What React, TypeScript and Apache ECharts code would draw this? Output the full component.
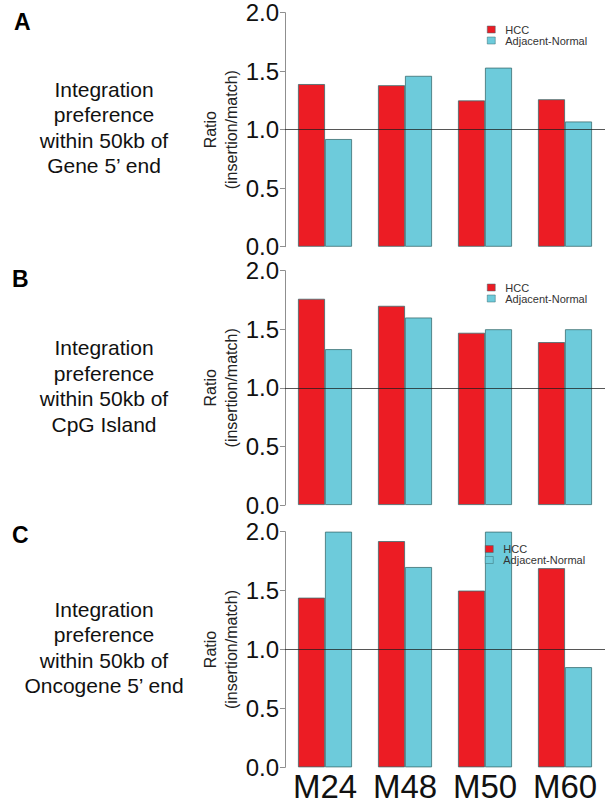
import React, { useEffect, useRef } from "react";
import * as echarts from "echarts";

const categories = ["M24", "M48", "M50", "M60"];
const seriesNames = ["HCC", "Adjacent-Normal"];
const yTicks = [0, 0.5, 1.0, 1.5, 2.0];
const referenceLine = 1.0;

const geneHCC = [1.39, 1.38, 1.25, 1.26];
const geneAdjacent = [0.92, 1.46, 1.53, 1.07];
const cpgHCC = [1.76, 1.7, 1.47, 1.39];
const cpgAdjacent = [1.33, 1.6, 1.5, 1.5];
const oncoHCC = [1.44, 1.92, 1.5, 1.69];
const oncoAdjacent = [2.0, 1.7, 2.0, 0.85];

const panelLetters = ["A", "B", "C"];
const panelTitles = [
  "Integration\npreference\nwithin 50kb of\nGene 5\u2019 end",
  "Integration\npreference\nwithin 50kb of\nCpG Island",
  "Integration\npreference\nwithin 50kb of\nOncogene 5\u2019 end",
];
const yAxisTitle = "Ratio\n(insertion/match)";

const FONT = "'Liberation Sans', Arial, Helvetica, sans-serif";
const RED = "#EC1C24";
const CYAN = "#6DCBDB";
const BORDER = "#3b6d70";

const panelData = [
  [geneHCC, geneAdjacent],
  [cpgHCC, cpgAdjacent],
  [oncoHCC, oncoAdjacent],
];

const grids = [
  { top: 12.7, height: 234 },
  { top: 270.7, height: 234.3 },
  { top: 531.7, height: 235.6 },
];
const GRID_LEFT = 285;
const GRID_WIDTH = 320;
const legendTops = [24, 282, 543.5];
const legendLefts = [487, 487, 485];
const letterTops = [10, 267, 523];
const letterLefts = [14, 12, 12];

export default function App() {
  const ref = useRef<HTMLDivElement>(null);

  useEffect(() => {
    if (!ref.current) return;
    const chart = echarts.init(ref.current, null, { renderer: "svg" });

    const gridOpts = grids.map((g) => ({
      left: GRID_LEFT,
      top: g.top,
      width: GRID_WIDTH,
      height: g.height,
      containLabel: false,
    }));

    const xAxes = grids.map((_, i) => ({
      type: "category",
      gridIndex: i,
      data: categories,
      axisLine: { show: false },
      axisTick: { show: false },
      splitLine: { show: false },
      axisLabel: {
        show: i === 2,
        interval: 0,
        fontSize: 33,
        lineHeight: 26,
        color: "#111",
        fontFamily: FONT,
        margin: 6,
      },
    }));

    const yAxes = grids.map((_, i) => ({
      type: "value",
      gridIndex: i,
      min: yTicks[0],
      max: yTicks[yTicks.length - 1],
      interval: yTicks[1] - yTicks[0],
      axisLine: { show: true, lineStyle: { color: "#8f8f8f", width: 1 } },
      axisTick: { show: true, length: 5, lineStyle: { color: "#8f8f8f", width: 1 } },
      splitLine: { show: false },
      axisLabel: {
        fontSize: 24,
        lineHeight: 20,
        color: "#111",
        fontFamily: FONT,
        margin: 6,
        formatter: (v: number) => v.toFixed(1),
      },
    }));

    const series: any[] = [];
    panelData.forEach((pair, i) => {
      pair.forEach((vals, j) => {
        series.push({
          type: "bar",
          name: seriesNames[j],
          xAxisIndex: i,
          yAxisIndex: i,
          data: vals,
          barWidth: 27,
          barGap: "0%",
          itemStyle: {
            color: j === 0 ? RED : CYAN,
            borderColor: BORDER,
            borderWidth: 0.8,
          },
          markLine:
            j === 1
              ? {
                  silent: true,
                  symbol: "none",
                  label: { show: false },
                  lineStyle: { color: "rgba(30,30,30,0.75)", width: 1, type: "solid" },
                  data: [{ yAxis: referenceLine }],
                  z: 10,
                }
              : undefined,
        });
      });
    });

    const legends = grids.map((_, i) => ({
      orient: "vertical",
      left: legendLefts[i],
      top: legendTops[i],
      padding: 0,
      itemWidth: 8,
      itemHeight: 7,
      itemGap: 0,
      icon: "rect",
      selectedMode: false,
      data: seriesNames,
      itemStyle: { borderWidth: 0.5, borderColor: BORDER },
      textStyle: { fontSize: 11, color: "#333", fontFamily: FONT, padding: [0, 0, 0, 5] },
    }));

    const graphics: any[] = [];
    grids.forEach((g, i) => {
      const cy = g.top + g.height / 2;
      graphics.push({
        type: "text",
        left: letterLefts[i],
        top: letterTops[i],
        style: {
          text: panelLetters[i],
          font: `bold 23px ${FONT}`,
          fill: "#000",
        },
      });
      graphics.push({
        type: "text",
        x: 104,
        y: cy - 2,
        style: {
          text: panelTitles[i],
          font: `21px ${FONT}`,
          lineHeight: 25.5,
          fill: "#111",
          align: "center",
          verticalAlign: "middle",
        },
      });
      graphics.push({
        type: "text",
        x: 221,
        y: cy,
        rotation: Math.PI / 2,
        style: {
          text: yAxisTitle,
          font: `16px ${FONT}`,
          lineHeight: 21,
          fill: "#222",
          align: "center",
          verticalAlign: "middle",
        },
      });
    });

    chart.setOption({
      animation: false,
      backgroundColor: "#ffffff",
      grid: gridOpts,
      xAxis: xAxes,
      yAxis: yAxes,
      legend: legends,
      series,
      graphic: graphics,
    });

    return () => chart.dispose();
  }, []);

  return (
    <div
      ref={ref}
      style={{ position: "fixed", left: 0, top: 0, width: 605, height: 804, background: "#fff" }}
    />
  );
}
